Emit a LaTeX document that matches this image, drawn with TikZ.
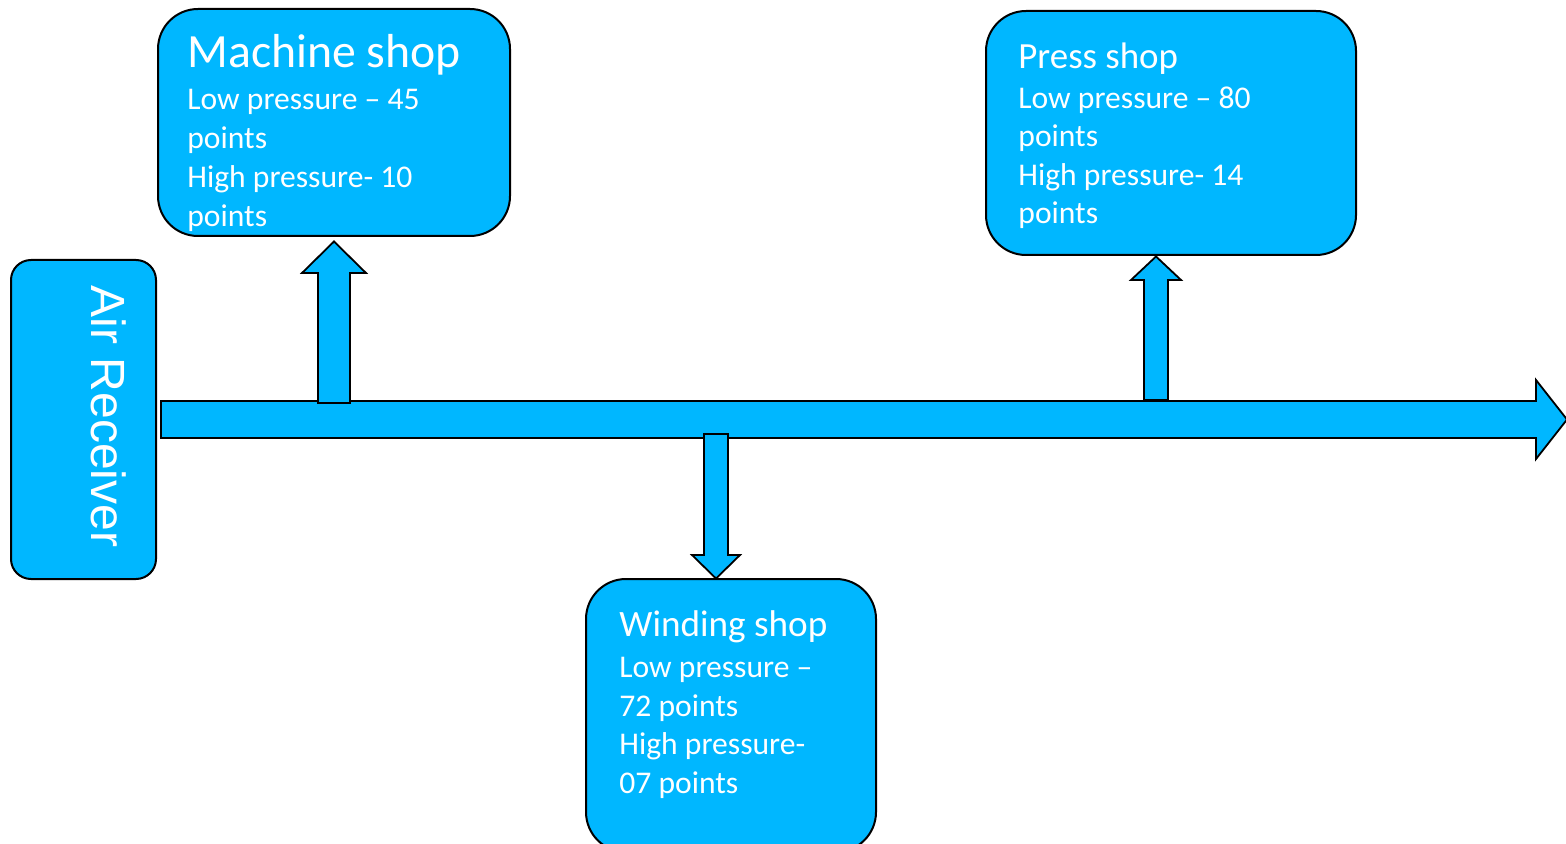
\documentclass[tikz,border=0pt]{standalone}
\usepackage{fontspec}
\setmainfont{Carlito}
\newfontfamily\arialfont{Liberation Sans}
\usetikzlibrary{calc}
\definecolor{shopblue}{RGB}{0,183,255}
\tikzset{
  shopbox/.style={draw=black, line width=1pt, fill=shopblue, rounded corners=20pt},
  blockarrow/.style={draw=black, line width=0.9pt, fill=shopblue, line join=miter},
  bodytext/.style={text=white, inner sep=0pt, anchor=base west, font=\fontsize{15.8pt}{19pt}\selectfont},
  titletext/.style={text=white, inner sep=0pt, anchor=base west},
}
\begin{document}
\begin{tikzpicture}[x=0.5pt, y=-0.5pt]
\useasboundingbox (0,0) rectangle (1566,844);
\begin{scope}
\clip (0,0) rectangle (1566,844);

% main distribution line from the receiver
\draw[blockarrow] (161,401) -- (1536,401) -- (1536,380) -- (1567,419.5)
  -- (1536,459) -- (1536,438) -- (161,438) -- cycle;

% shop boxes
\node[shopbox, minimum width=176pt, minimum height=113.5pt] (machine) at (334,122.5) {};
\node[shopbox, minimum width=185pt, minimum height=122pt] (press) at (1171,133) {};
\node[shopbox, minimum width=145pt, minimum height=136.5pt] (winding) at (731,715.5) {};
\node[shopbox, rounded corners=10pt, minimum width=72.5pt, minimum height=159.5pt] (receiver) at (83.5,419.5) {};

% branch arrows
\draw[blockarrow] (318,403) -- (318,273) -- (302,273) -- (334,241.5)
  -- (366,273) -- (350,273) -- (350,403) -- cycle;
\draw[blockarrow] (1144,400) -- (1144,280) -- (1131,280) -- (1156,256.5)
  -- (1181,280) -- (1168,280) -- (1168,400) -- cycle;
\draw[blockarrow] (704,434) -- (728,434) -- (728,555) -- (740,555)
  -- (716,578.5) -- (692,555) -- (704,555) -- cycle;
\end{scope}

% receiver label
\node[text=white, rotate=-90, inner sep=0pt, font=\arialfont\fontsize{24pt}{28pt}\selectfont]
  (receiverlabel) at (109,416.5) {Air Receiver};

% machine shop text
\node[titletext, font=\fontsize{23.85pt}{28pt}\selectfont] (mtitle) at (187,68) {Machine shop};
\node[bodytext] (m1) at (187,109.5) {Low pressure – 45};
\node[bodytext] (m2) at (187,148.5) {points};
\node[bodytext] (m3) at (187,187.5) {High pressure- 10};
\node[bodytext] (m4) at (187,226.5) {points};

% press shop text
\node[titletext, font=\fontsize{18.45pt}{22pt}\selectfont] (ptitle) at (1018,68.5) {Press shop};
\node[bodytext] (p1) at (1018,108.5) {Low pressure – 80};
\node[bodytext] (p2) at (1018,147) {points};
\node[bodytext] (p3) at (1018,185.5) {High pressure- 14};
\node[bodytext] (p4) at (1018,224) {points};

% winding shop text
\node[titletext, font=\fontsize{18.6pt}{22pt}\selectfont] (wtitle) at (619,636) {Winding shop};
\node[bodytext] (w1) at (619,677) {Low pressure –};
\node[bodytext] (w2) at (619,716) {72 points};
\node[bodytext] (w3) at (619,754.5) {High pressure-};
\node[bodytext] (w4) at (619,793) {07 points};
\end{tikzpicture}
\end{document}
